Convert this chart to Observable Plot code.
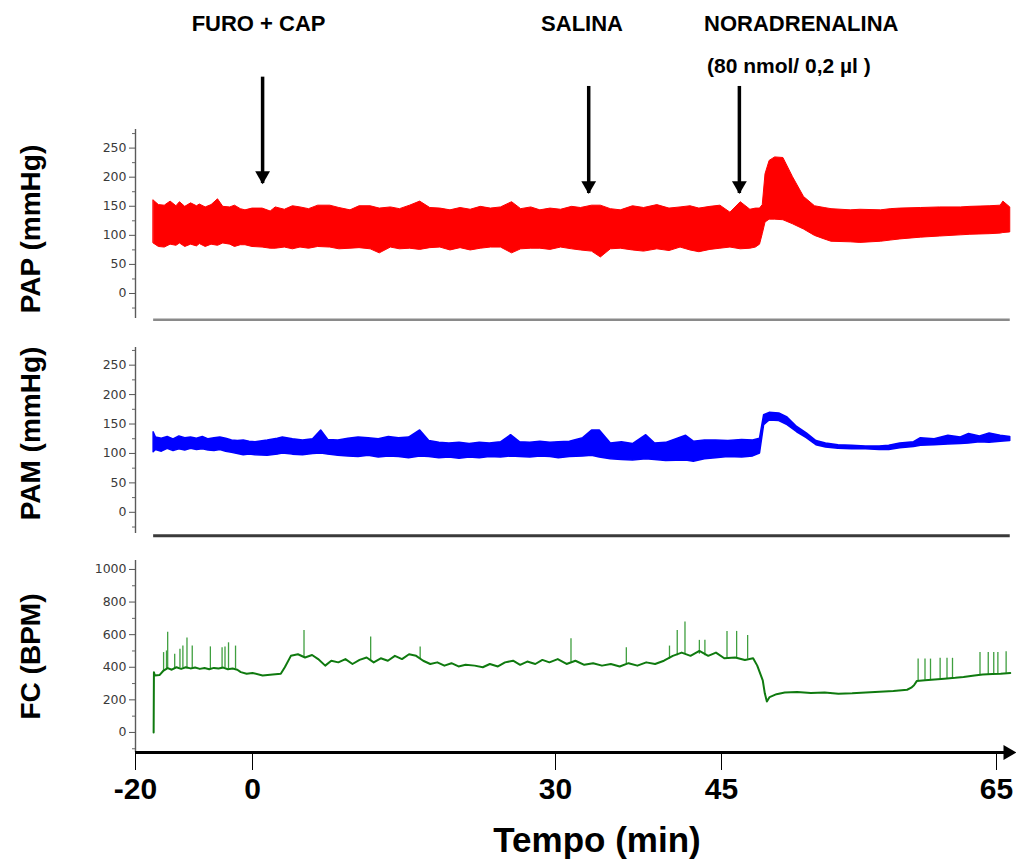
<!DOCTYPE html>
<html><head><meta charset="utf-8">
<script src="https://cdn.jsdelivr.net/npm/d3@7"></script>
<script src="https://cdn.jsdelivr.net/npm/@observablehq/plot@0.6"></script>
<style>
body{margin:0;background:#fff;}
#chart svg{display:block;}
</style></head><body><div id="chart"></div>
<script>
// ---------- data ----------
const xTicks = [-20, 0, 30, 45, 65];            // Tempo (min) tick labels
const xAxisEnd = 66.4;

const eventLabels = ["FURO + CAP", "SALINA", "NORADRENALINA"];
const eventTimes = [1, 33, 46.3];                // where arrows point (min)
const eventLabelTimes = [0.6, 32.4, 50.8];
const eventArrowTop = [372, 356, 356];           // mmHg (PAP panel units)
const eventArrowTip = [189, 172, 172];
const doseLabel = "(80 nmol/ 0,2 µl )";
const doseLabelTime = 49.9;

const papTicks = [0, 50, 100, 150, 200, 250];
const papMinor = [-25, 25, 75, 125, 175, 225, 275];
const papTime = [-16.9,-16,-15,-14,-13,-12.4,-11.5,-10.5,-9.5,-9,-8,-7,-5.9,-5,-3.8,-3,-2,-1.2,0,1,1.8,2.3,3.2,4,4.75,5.6,6.5,7.7,8.6,9.7,10.6,11.7,12.6,13.7,14.6,15.6,16.6,17.6,18.6,19.6,20.6,21.6,22.6,23.6,24.6,25.7,26.6,27.6,28.5,29.5,30.5,31.5,32.3,33.3,34.1,35,35.9,37,38,39.2,40.3,41.3,42.2,43,44,44.9,45.65,46.4,47.1,47.5,47.8,48,48.2,48.5,48.9,49.5,50.2,51,51.8,52.5,53,54.4,55.1,56.6,57.3,58,59.5,60.9,62.4,63.1,64.5,65.3,65.5,66];
const papLow  = [86,80,79,84,82,86,80,84,81,85,80,84,82,86,84,80,83,83,80,79,77,77,79,76,79,77,80,79,76,77,78,76,69,79,76,77,75,78,79,74,78,74,77,79,79,69,76,77,77,75,79,76,74,72,62,76,77,74,72,76,73,79,74,71,75,77,79,76,77,79,84,102,122,127,127,126,119,110,99,93,89,88,87,89,91,93,96,98,100,101,102,103,104,105];
const papHigh = [160,152,151,158,150,157,149,155,150,153,148,152,162,149,148,151,145,143,146,146,141,148,144,150,148,145,151,151,147,143,150,150,146,148,145,151,158,147,146,143,147,144,149,146,148,157,145,148,143,146,144,149,147,151,151,145,143,150,147,152,146,148,150,146,149,151,139,157,144,146,146,152,205,228,234,233,200,166,150,147,145,143,144,143,145,146,147,148,148,149,150,151,158,148];

const pamTicks = [0, 50, 100, 150, 200, 250];
const pamMinor = [-25, 25, 75, 125, 175, 225, 275];
const pamTime = [-16.9,-16.5,-15.5,-14.5,-13.5,-12.5,-11.5,-10.5,-9.5,-8.5,-7.5,-6.5,-5.5,-4.5,-3.5,-2.5,-1.5,-0.5,0.3,1.5,2.5,3,4,5,6,6.8,7.5,8.5,9.5,10.5,11.5,12.5,13.5,14.5,15.5,16.6,17.5,18.5,19.5,20.5,21.5,22.5,23.5,24.6,25.6,26.5,27.5,28.5,29.5,30.3,31.3,32.5,33.3,34,35,36,37,38.2,39,40,41.8,42.5,43.5,44.5,45.5,46.5,47.3,47.8,48.1,48.5,49.2,49.8,50.5,51.2,51.9,52.6,53.5,54.5,55.5,56.5,57.2,58,59,59.5,60.5,61.5,62.4,63,63.8,64.5,65.3,66];
const pamLow  = [102,106,103,108,104,107,105,108,106,107,105,104,106,103,101,99,97,98,97,96,98,100,98,97,99,100,98,96,95,94,96,93,95,94,92,95,94,92,93,91,93,92,94,93,95,94,93,95,94,92,94,95,96,93,90,89,88,90,89,87,88,86,90,92,94,93,95,100,148,156,155,148,136,126,114,110,108,107,107,106,106,109,111,113,114,115,116,117,119,118,120,121];
const pamHigh = [136,127,125,128,124,129,126,127,125,128,124,126,127,125,122,121,122,120,119,122,125,127,124,122,124,139,123,122,125,127,126,124,128,126,127,139,121,118,117,118,116,118,117,119,131,119,118,120,118,119,120,126,139,139,117,119,116,131,117,118,130,120,122,122,121,123,122,125,165,169,168,161,145,134,121,117,114,113,112,112,113,117,119,126,124,130,127,133,129,134,130,128];

const fcTicks = [0, 200, 400, 600, 800, 1000];
const fcMinor = [-100, 100, 300, 500, 700, 900];
const fcTime = [-16.9,-16.85,-16.7,-15.9,-15.2,-14.5,-13.8,-13,-12.2,-11.4,-10.6,-9.8,-9,-8.2,-7.4,-6.6,-5.8,-5,-4.2,-3.4,-2.6,-2,-1,0,1,2,2.8,3.2,3.8,4.5,5.2,5.9,6.5,7.2,7.8,8.5,9.2,9.9,10.6,11.3,12,12.7,13.4,14.1,14.8,15.5,16.2,16.9,17.6,18.3,19,19.7,20.4,21.1,22,22.8,23.5,24.3,25,25.8,26.5,27.2,28,28.7,29.4,30.2,31,31.8,32.6,33.4,34.2,35,35.8,36.6,37.4,38.2,39,39.8,40.6,41.4,42.2,43,43.8,44.5,45.2,46,46.7,47.3,47.6,48,48.15,48.3,48.5,49,49.6,50.5,51.5,52.5,53.5,54.5,55.5,56.5,57.5,58.5,58.8,59,59.2,59.8,60.5,61.2,62,62.6,63.4,64,64.7,65.3,66];
const fcRate = [0,370,350,352,380,395,385,400,390,400,393,398,390,395,388,396,392,398,388,392,385,370,360,365,350,355,360,400,470,480,460,475,450,410,440,430,450,420,445,460,430,455,440,470,450,480,470,440,420,430,410,425,405,415,410,400,420,405,430,440,415,435,420,445,430,450,420,440,415,425,410,420,405,425,410,430,420,440,470,490,470,500,470,490,455,460,445,455,410,320,240,190,217,235,245,248,242,245,238,240,245,250,255,262,275,290,315,320,325,330,335,340,350,355,358,360,365];
const fcSpikeTime = [-15.2,-14.7,-14.5,-13.3,-12.4,-11.9,-11.2,-10.3,-7.2,-5.2,-4.7,-4.1,-2.9,5.1,11.7,16.6,31.4,36.4,40.3,41,41.7,43,43.5,45.4,46.1,46.9,59.3,59.8,60.2,60.9,61.4,61.8,63.8,64.4,64.8,65.1,65.7];
const fcSpikeBase = [380,385,390,390,395,395,390,395,390,395,395,390,390,460,440,450,430,420,450,470,480,480,470,455,460,450,315,320,322,326,328,330,352,356,357,359,363];
const fcSpikePeak = [490,500,615,480,510,530,580,530,525,520,525,550,530,625,585,525,575,520,530,625,677,565,565,620,620,595,450,450,450,455,455,455,490,490,490,490,495];

// ---------- build ----------
const W = 1016;
const xScale = {type: "linear", domain: xTicks, range: [135, 252, 555, 721, 996], label: null};
const tickFont = "DejaVu Sans";
const titleFont = "Liberation Sans, Arial, sans-serif";
const plain = d => String(d);

const pap = papTime.map((t, i) => ({t, low: papLow[i], high: papHigh[i]}));
const pam = pamTime.map((t, i) => ({t, low: pamLow[i], high: pamHigh[i]}));
const fc = fcTime.map((t, i) => ({t, v: fcRate[i]}));
const spikes = fcSpikeTime.map((t, i) => ({t, base: fcSpikeBase[i], peak: fcSpikePeak[i]}));
const events = eventTimes.map((t, i) => ({t, top: eventArrowTop[i], tip: eventArrowTip[i]}));
const headers = eventLabels.map((label, i) => ({t: eventLabelTimes[i], label}));

function yAxisMarks(major, minor) {
  return [
    Plot.ruleX([xTicks[0]], {stroke: "#5a5a5a", strokeWidth: 1.4}),
    Plot.axisY(minor, {anchor: "left", tickSize: 3, tickFormat: () => "", stroke: "#666"}),
    Plot.axisY(major, {anchor: "left", tickSize: 6, tickPadding: 3, fontSize: 12.5, fontFamily: tickFont,
      stroke: "#555", fill: "#3a3a3a", tickFormat: plain})
  ];
}
function yTitle(label, dy) {
  return Plot.text([label], {frameAnchor: "left", textAnchor: "middle", rotate: -90, dx: -104, dy, fontSize: 28,
    fontWeight: "bold", fontFamily: titleFont, fill: "black"});
}

const papDomain = [-43, 282];
const p1 = Plot.plot({
  width: W, height: 322, marginTop: 129, marginBottom: 4, marginLeft: 135, marginRight: 6,
  x: {...xScale, axis: null},
  y: {domain: papDomain, label: null},
  style: {background: "white"},
  marks: [
    ...yAxisMarks(papTicks, papMinor),
    Plot.ruleY([-45], {x1: papTime[0], x2: papTime[papTime.length - 1], stroke: "#8a8a8a", strokeWidth: 2.5}),
    Plot.areaY(pap, {x: "t", y1: "low", y2: "high", fill: "#ff0000", stroke: "#ff0000", strokeWidth: 1}),
    Plot.ruleX(events, {x: "t", y1: "top", y2: "tip", stroke: "black", strokeWidth: 3.5}),
    Plot.dot(events, {x: "t", y: "tip", symbol: "triangle", r: 5.5, fill: "black", stroke: "none", rotate: 180, dy: -8}),
    Plot.text(headers, {x: "t", text: "label", frameAnchor: "top", dy: -114, fontSize: 22, fontWeight: "bold",
      fontFamily: titleFont, fill: "black"}),
    Plot.text([doseLabel], {x: doseLabelTime, text: d => d, frameAnchor: "top", dy: -71, fontSize: 21, fontWeight: "bold",
      fontFamily: titleFont, fill: "black"}),
    yTitle("PAP (mmHg)", 5)
  ]
});

const pamDomain = [-36, 280];
const p2 = Plot.plot({
  width: W, height: 218, marginTop: 25, marginBottom: 7, marginLeft: 135, marginRight: 6,
  x: {...xScale, axis: null},
  y: {domain: pamDomain, label: null},
  style: {background: "white"},
  marks: [
    ...yAxisMarks(pamTicks, pamMinor),
    Plot.ruleY([-40], {x1: pamTime[0], x2: pamTime[pamTime.length - 1], stroke: "#3a3a3a", strokeWidth: 3}),
    Plot.areaY(pam, {x: "t", y1: "low", y2: "high", fill: "#0000ff", stroke: "#0000ff", strokeWidth: 1.5}),
    yTitle("PAM (mmHg)", -7)
  ]
});

const fcDomain = [-123, 1055];
const p3 = Plot.plot({
  width: W, height: 325, marginTop: 20, marginBottom: 113, marginLeft: 135, marginRight: 6,
  x: {...xScale},
  y: {domain: fcDomain, label: null},
  style: {background: "white"},
  marks: [
    ...yAxisMarks(fcTicks, fcMinor),
    Plot.ruleX(spikes, {x: "t", y1: "base", y2: "peak", stroke: "#3f9f3f", strokeWidth: 1.3}),
    Plot.line(fc, {x: "t", y: "v", stroke: "#0f7a0f", strokeWidth: 2}),
    Plot.axisX(xTicks, {anchor: "bottom", tickSize: 18, tickPadding: 7, fontSize: 30, fontWeight: "bold",
      fontFamily: titleFont, stroke: "black", fill: "black", tickFormat: plain}),
    Plot.ruleY([fcDomain[0]], {x1: xTicks[0], x2: xAxisEnd - 0.4, stroke: "black", strokeWidth: 3}),
    Plot.dot([xAxisEnd], {x: d => d, y: fcDomain[0], symbol: "triangle", r: 5.5, fill: "black", stroke: "none", rotate: 90, dx: -8}),
    Plot.text(["Tempo (min)"], {frameAnchor: "bottom", dx: 24, dy: 99, fontSize: 35, fontWeight: "bold",
      fontFamily: titleFont, fill: "black"}),
    yTitle("FC (BPM)", 0)
  ]
});

const root = document.getElementById("chart");
root.append(p1, p2, p3);
</script></body></html>
